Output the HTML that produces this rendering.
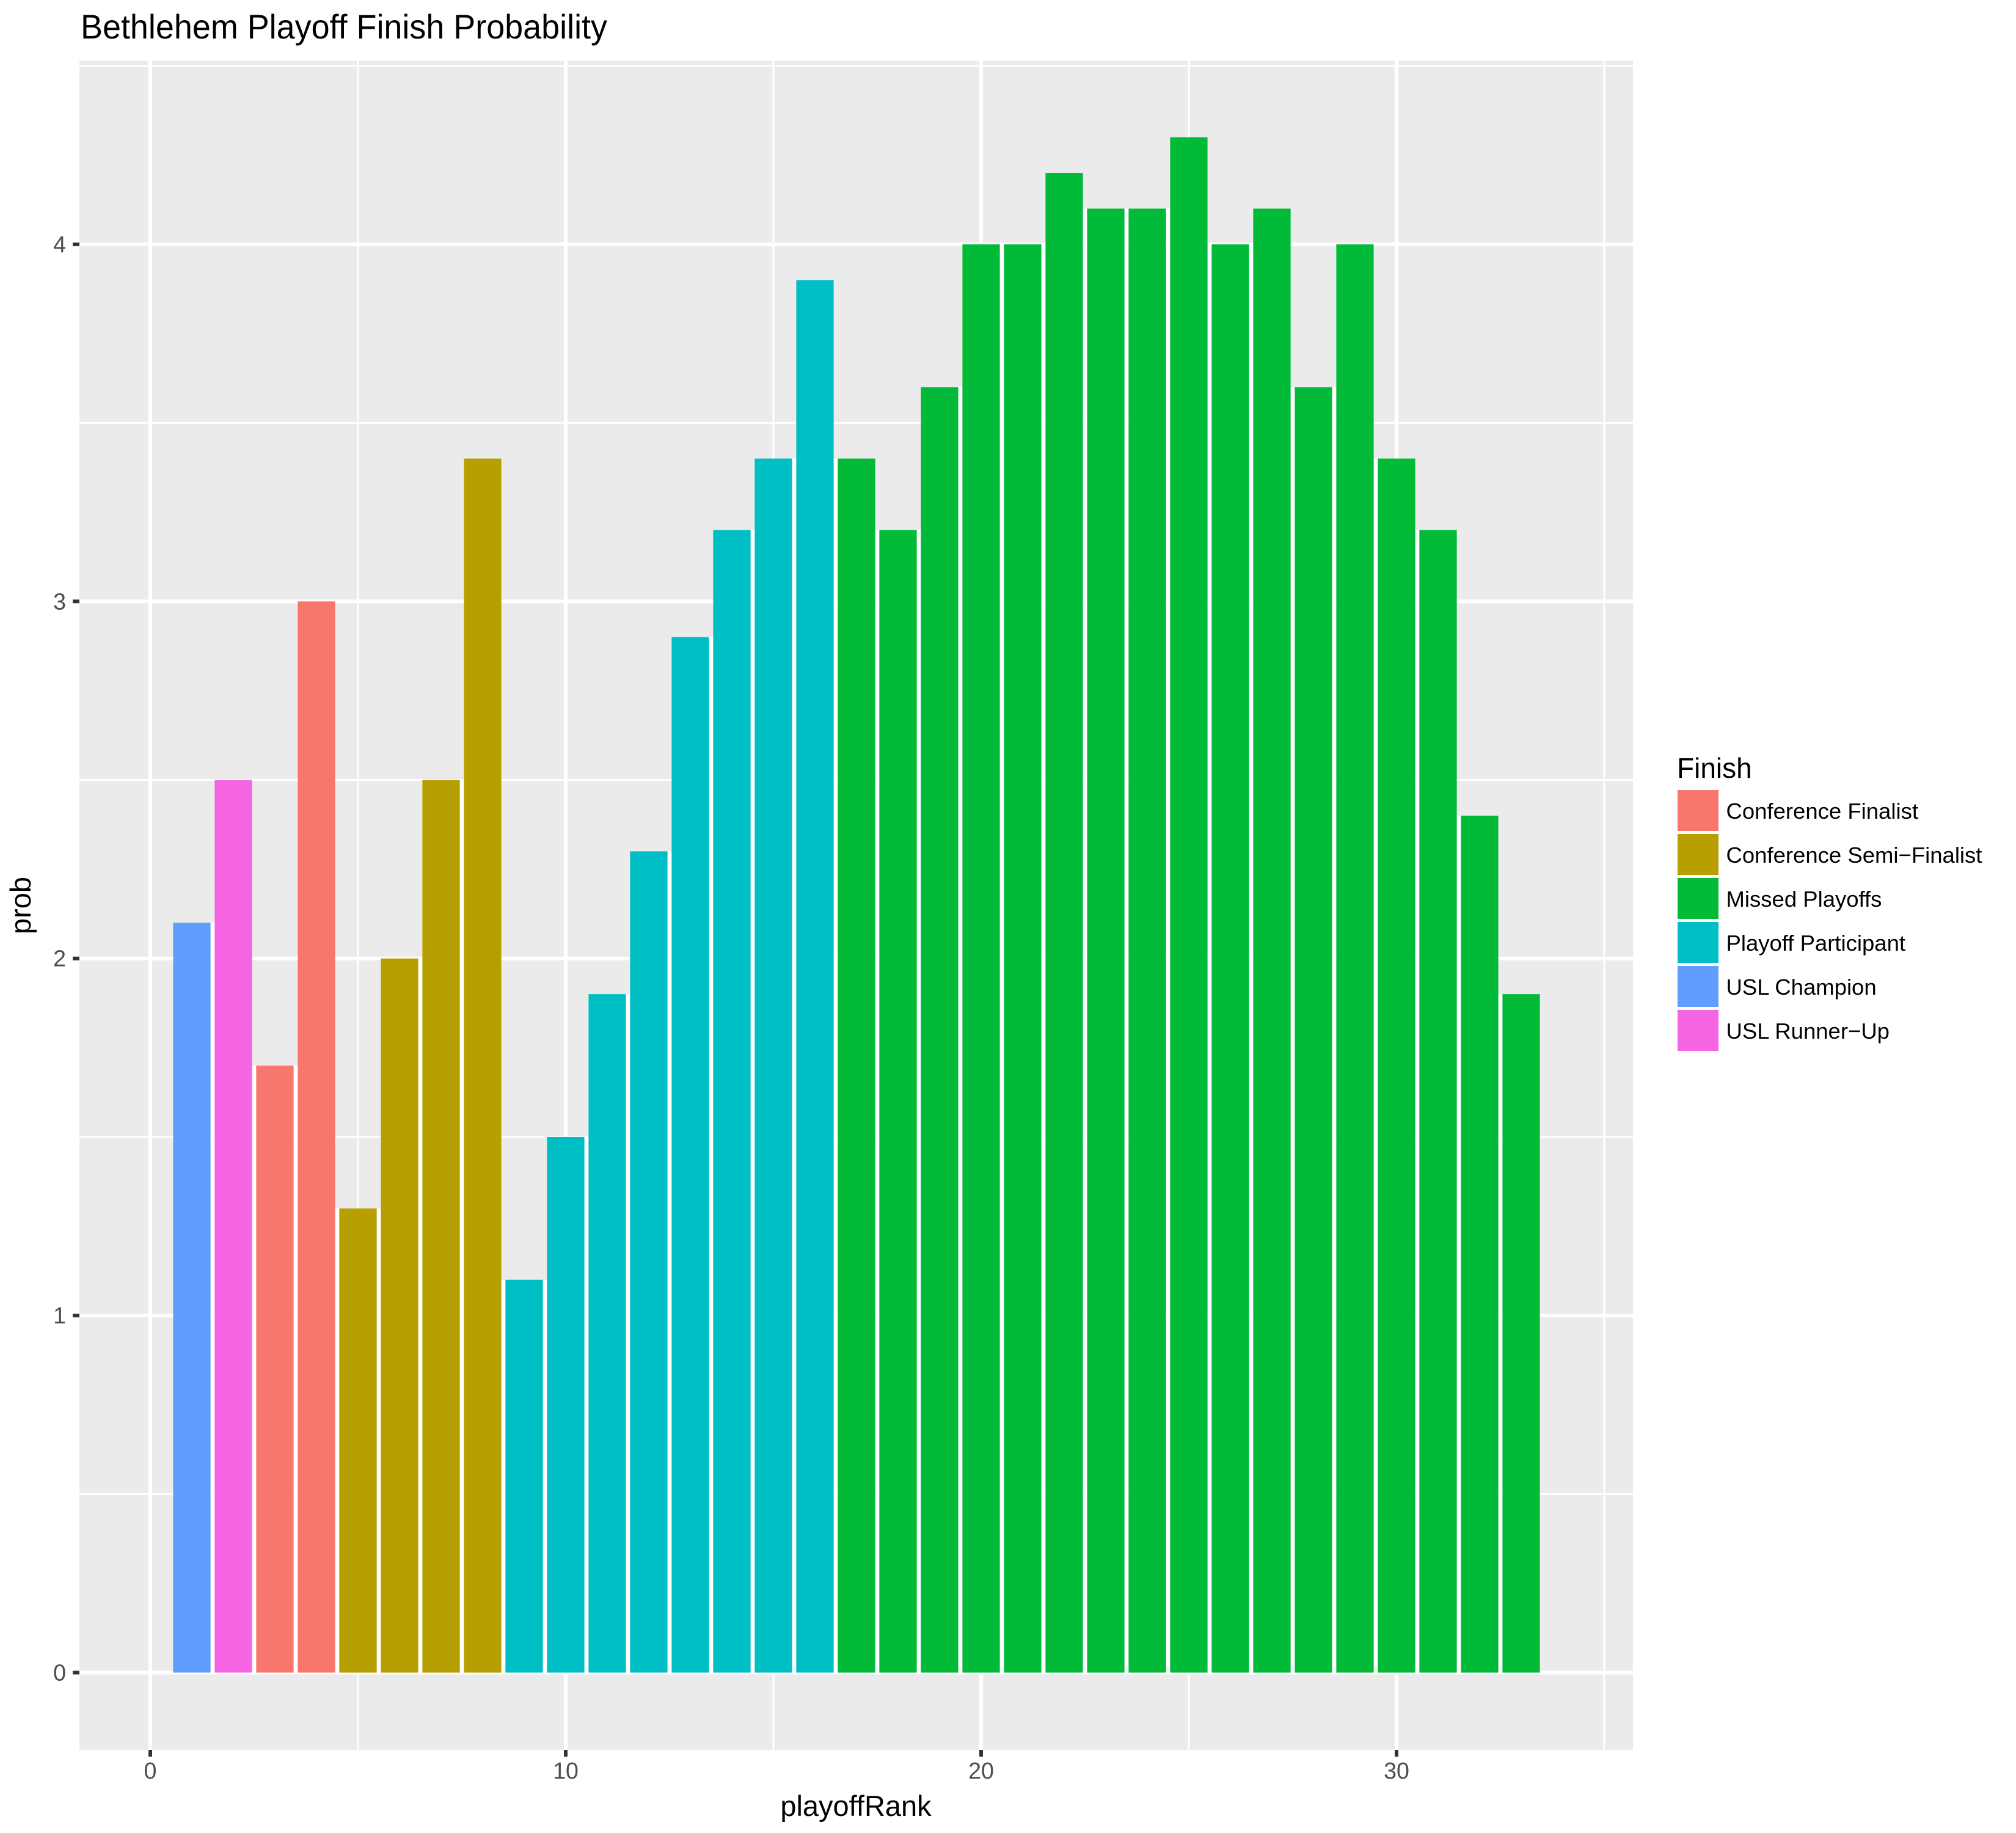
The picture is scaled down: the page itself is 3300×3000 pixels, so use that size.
<!DOCTYPE html>
<html><head><meta charset="utf-8"><style>html,body{margin:0;padding:0;background:#fff}svg{display:block}</style></head>
<body>
<svg id="s" width="3300" height="3000" xmlns="http://www.w3.org/2000/svg" font-family="Liberation Sans, Arial, sans-serif">
<rect width="3300" height="3000" fill="#fff"/>
<text x="132" y="63" font-size="56" fill="#000" textLength="862" lengthAdjust="spacingAndGlyphs">Bethlehem Playoff Finish Probability</text>
<rect x="130" y="99.5" width="2543" height="2764.5" fill="#EBEBEB"/>
<g id="grid"></g>
<g id="bars"></g>
<g id="axes" fill="#4D4D4D" font-size="37.6"></g>
<text x="1401" y="2972" font-size="47" text-anchor="middle" fill="#000">playoffRank</text>
<text transform="translate(50,1482) rotate(-90)" font-size="47" text-anchor="middle" fill="#000">prob</text>
<text x="2745" y="1273" font-size="46" fill="#000">Finish</text>
<g id="leg" font-size="36.5" fill="#000"></g>
</svg>
<script>
var NS="http://www.w3.org/2000/svg";
function el(p,t,a,txt){var e=document.createElementNS(NS,t);for(var k in a)e.setAttribute(k,a[k]);if(txt!==undefined)e.textContent=txt;document.getElementById(p).appendChild(e);return e;}
var X=function(v){return 246+68*v;}, Y=function(v){return 2737.5-584.4*v;};
var L=130,R=2673,T=99.5,B=2864;
[5,15,25,35].forEach(function(v){el("grid","line",{x1:X(v),x2:X(v),y1:T,y2:B,stroke:"#fff","stroke-width":3});});
[0.5,1.5,2.5,3.5,4.5].forEach(function(v){el("grid","line",{x1:L,x2:R,y1:Y(v),y2:Y(v),stroke:"#fff","stroke-width":3});});
[0,10,20,30].forEach(function(v){el("grid","line",{x1:X(v),x2:X(v),y1:T,y2:B,stroke:"#fff","stroke-width":6});
 el("axes","line",{x1:X(v),x2:X(v),y1:B,y2:B+11,stroke:"#333","stroke-width":6});
 el("axes","text",{x:X(v),y:2911,"text-anchor":"middle"},String(v));});
[0,1,2,3,4].forEach(function(v){el("grid","line",{x1:L,x2:R,y1:Y(v),y2:Y(v),stroke:"#fff","stroke-width":6});
 el("axes","line",{x1:L-11,x2:L,y1:Y(v),y2:Y(v),stroke:"#333","stroke-width":6});
 el("axes","text",{x:108,y:Y(v)+13,"text-anchor":"end"},String(v));});
var C={cf:"#F8766D",cs:"#B79F00",mp:"#00BA38",pp:"#00BFC4",ch:"#619CFF",ru:"#F564E3"};
var vals=[2.1,2.5,1.7,3.0,1.3,2.0,2.5,3.4,1.1,1.5,1.9,2.3,2.9,3.2,3.4,3.9,3.4,3.2,3.6,4.0,4.0,4.2,4.1,4.1,4.3,4.0,4.1,3.6,4.0,3.4,3.2,2.4,1.9];
function col(i){if(i==1)return C.ch;if(i==2)return C.ru;if(i<=4)return C.cf;if(i<=8)return C.cs;if(i<=16)return C.pp;return C.mp;}
for(var i=1;i<=33;i++){var v=vals[i-1];
 if(i<33){var m=Math.min(v,vals[i]);el("bars","rect",{x:X(i+0.45),y:Y(m),width:X(i+0.55)-X(i+0.45),height:Y(0)-Y(m),fill:"#fff"});}
 el("bars","rect",{x:X(i-0.45),y:Y(v),width:68*0.9,height:Y(0)-Y(v),fill:col(i)});}
var leg=[["Conference Finalist",C.cf],["Conference Semi\u2212Finalist",C.cs],["Missed Playoffs",C.mp],["Playoff Participant",C.pp],["USL Champion",C.ch],["USL Runner\u2212Up",C.ru]];
leg.forEach(function(d,k){el("leg","rect",{x:2746,y:1293+72*k,width:67,height:67,fill:d[1]});
 el("leg","text",{x:2825.5,y:1340+72*k},d[0]);});
</script>
</body></html>
